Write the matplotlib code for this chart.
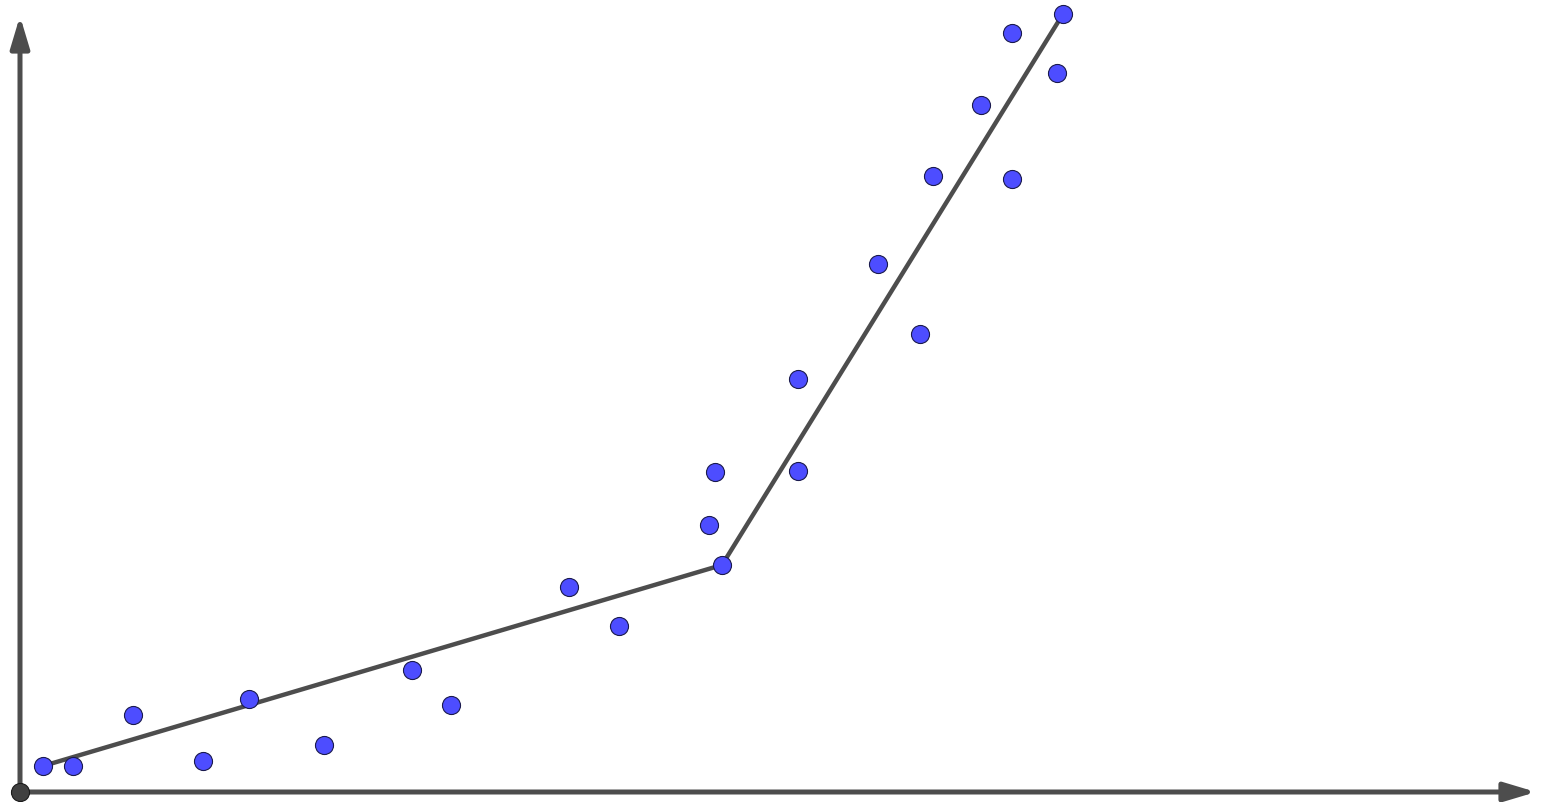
import matplotlib.pyplot as plt
import numpy as np

# --- data (x, y) ---
pts_x = np.array([0.23, 0.53, 1.13, 1.83, 2.29, 3.04, 3.92, 4.31, 5.49, 5.99,
                  6.89, 6.95, 7.02, 7.78, 7.78, 8.58, 9.00, 9.13, 9.61, 9.92,
                  9.92, 10.37, 10.43])
pts_y = np.array([0.26, 0.26, 0.77, 0.31, 0.93, 0.47, 1.22, 0.87, 2.05, 1.66,
                  2.67, 3.20, 2.27, 4.13, 3.21, 5.28, 4.58, 6.16, 6.87, 7.59,
                  6.13, 7.19, 7.78])

# piecewise fit
fit_x = [0.23, 7.02, 10.43]
fit_y = [0.26, 2.27, 7.78]

axis_col = '#4d4d4d'

fig = plt.figure(figsize=(15.6, 8.02), dpi=100)
ax = fig.add_axes([0, 0, 1, 1])
ax.set_xlim(-0.20, 15.40)
ax.set_ylim(-0.10, 7.92)
ax.axis('off')

# axes with arrows
arrow_kw = dict(arrowstyle='-|>,head_length=1.0,head_width=0.30', lw=3.6,
                color=axis_col, mutation_scale=19, shrinkA=0, shrinkB=0)
ax.annotate('', xy=(0, 7.76), xytext=(0, 0), arrowprops=arrow_kw, zorder=1)
ax.annotate('', xy=(15.16, 0), xytext=(0, 0), arrowprops=arrow_kw, zorder=1)

# fitted line
ax.plot(fit_x, fit_y, color=axis_col, lw=3.2, zorder=2, solid_capstyle='butt')

# data points
ax.plot(pts_x, pts_y, 'o', ms=13, mfc='#4d4dff', mec='#1a1a4d', mew=0.8,
        zorder=3)

# origin
ax.plot([0], [0], 'o', ms=13, mfc='#404040', mec='#1a1a1a', mew=0.8, zorder=4)

plt.savefig('out.png', dpi=100)
plt.close()
